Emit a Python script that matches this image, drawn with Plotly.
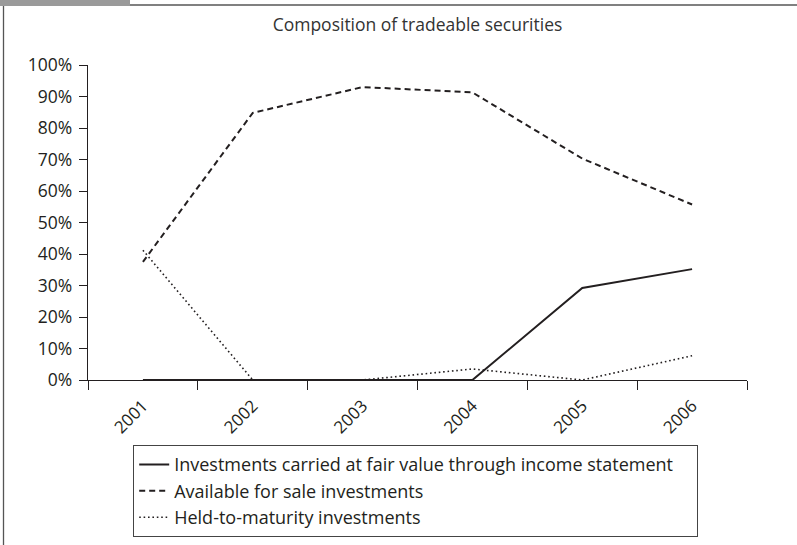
import plotly.graph_objects as go

years = ["2001", "2002", "2003", "2004", "2005", "2006"]
fair_value = [0.0, 0.0, 0.0, 0.0, 0.292, 0.352]
available_for_sale = [0.375, 0.848, 0.930, 0.913, 0.703, 0.557]
held_to_maturity = [0.412, 0.0, 0.0, 0.035, 0.0, 0.077]
y_ticks = [0, 0.1, 0.2, 0.3, 0.4, 0.5, 0.6, 0.7, 0.8, 0.9, 1.0]
y_labels = ["0%", "10%", "20%", "30%", "40%", "50%", "60%", "70%", "80%", "90%", "100%"]
series_names = ["Investments carried at fair value through income statement",
                "Available for sale investments",
                "Held-to-maturity investments"]

FONT = "Open Sans"
INK = "#231f20"
PAD = "\u00a0" * 4

fig = go.Figure()
fig.add_trace(go.Scatter(x=years, y=fair_value, mode="lines",
                         name=series_names[0] + PAD,
                         line=dict(color=INK, width=2, dash="solid")))
fig.add_trace(go.Scatter(x=years, y=available_for_sale, mode="lines",
                         name=series_names[1],
                         line=dict(color=INK, width=2, dash="6px,4px")))
fig.add_trace(go.Scatter(x=years, y=held_to_maturity, mode="lines",
                         name=series_names[2],
                         line=dict(color=INK, width=1.6, dash="1.6px,2.8px")))

L, R, T, B = 88, 50, 65, 165
W, H = 797, 545
pw, ph = W - L - R, H - T - B

def px_x(x):
    return (x - L) / pw

def px_y(y):
    return (H - B - y) / ph

fig.update_layout(
    width=W, height=H,
    margin=dict(l=L, r=R, t=T, b=B, pad=0, autoexpand=False),
    paper_bgcolor="white", plot_bgcolor="white",
    font=dict(family=FONT, color=INK, size=17),
    title=dict(text="Composition of tradeable securities", x=0.5, xanchor="center",
               xref="paper", y=1 - 25 / H, yanchor="middle",
               font=dict(family=FONT, size=17.5, color="#333333")),
    showlegend=True,
    legend=dict(xref="container", yref="container", x=133 / W, y=1 - 445 / H,
                xanchor="left", yanchor="top",
                bordercolor="#444444", borderwidth=1.2, bgcolor="white",
                font=dict(family=FONT, size=18, color=INK),
                tracegroupgap=0, itemwidth=30),
    xaxis=dict(type="category", range=[-0.5, 5.5], showgrid=False, zeroline=False,
               showline=True, linecolor=INK, linewidth=1.3, automargin=False,
               ticks="outside", tickson="boundaries", ticklen=9, tickwidth=1.3, tickcolor=INK,
               tickangle=-45, ticklabelstandoff=8,
               tickfont=dict(family=FONT, size=17, color=INK)),
    yaxis=dict(range=[0, 1], tickvals=y_ticks, ticktext=y_labels, showgrid=False,
               zeroline=False, showline=True, linecolor=INK, linewidth=1.3, automargin=False,
               ticks="outside", ticklen=8, tickwidth=1.3, tickcolor=INK,
               ticklabelstandoff=3,
               tickfont=dict(family=FONT, size=17.5, color=INK)),
    shapes=[
        dict(type="line", xref="paper", yref="paper", x0=px_x(3.5), x1=px_x(3.5),
             y0=px_y(4), y1=px_y(545), line=dict(color="#555555", width=1.3)),
        dict(type="line", xref="paper", yref="paper", x0=px_x(3), x1=px_x(797),
             y0=px_y(5), y1=px_y(5), line=dict(color="#808080", width=2)),
        dict(type="rect", xref="paper", yref="paper", x0=px_x(0), x1=px_x(130),
             y0=px_y(6), y1=px_y(0), fillcolor="#9a9a9a", line=dict(width=0)),
    ],
)

fig.write_html("out.html", config={"displayModeBar": False},
               post_script="document.body.style.margin='0';document.body.style.overflow='hidden';")
